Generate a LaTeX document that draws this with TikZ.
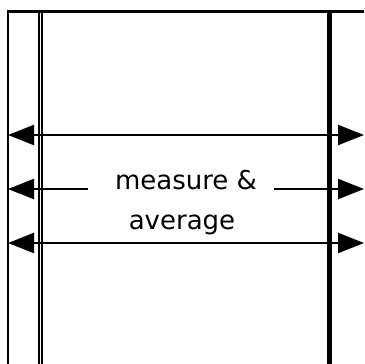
\documentclass[tikz,border=0pt]{standalone}
\usepackage{fontspec}
\setmainfont{DejaVu Sans}
\usetikzlibrary{arrows.meta}
\begin{document}
\begin{tikzpicture}[x=1pt,y=-1pt,
  wall/.style={line width=2.4pt,draw=black},
  thin wall/.style={line width=1.8pt,draw=black},
  flow/.style={line width=2.4pt,-{Triangle[length=26pt,width=20pt]}},
  dflow/.style={line width=2.4pt,{Triangle[length=26pt,width=20pt]}-{Triangle[length=26pt,width=20pt]}},
  lbl/.style={font=\fontsize{26}{28}\selectfont,inner sep=0pt,anchor=base}]
\useasboundingbox (0,0) rectangle (364,364);
\fill[white] (0,0) rectangle (364,364);
% walls
\draw[wall] (7.7,364) -- (7.7,11.3) -- (364,11.3);
\draw[thin wall] (39.2,11.3) -- (39.2,364);
\draw[wall] (42.2,11.3) -- (42.2,364);
\draw[thin wall] (327.8,11.3) -- (327.8,364);
\draw[wall] (330.4,11.3) -- (330.4,364);
% coordinates
\coordinate (L1) at (8,135); \coordinate (R1) at (364,135);
\coordinate (L2) at (8,189); \coordinate (R2) at (364,189);
\coordinate (L3) at (8,243); \coordinate (R3) at (364,243);
\coordinate (M2l) at (88,189); \coordinate (M2r) at (274,189);
\node[lbl] (t1) at (186,189) {measure \&};
\node[lbl] (t2) at (182,229) {average};
\draw[dflow] (L1) -- (R1);
\draw[dflow] (L3) -- (R3);
\draw[flow] (M2l) -- (L2);
\draw[flow] (M2r) -- (R2);
\end{tikzpicture}
\end{document}
